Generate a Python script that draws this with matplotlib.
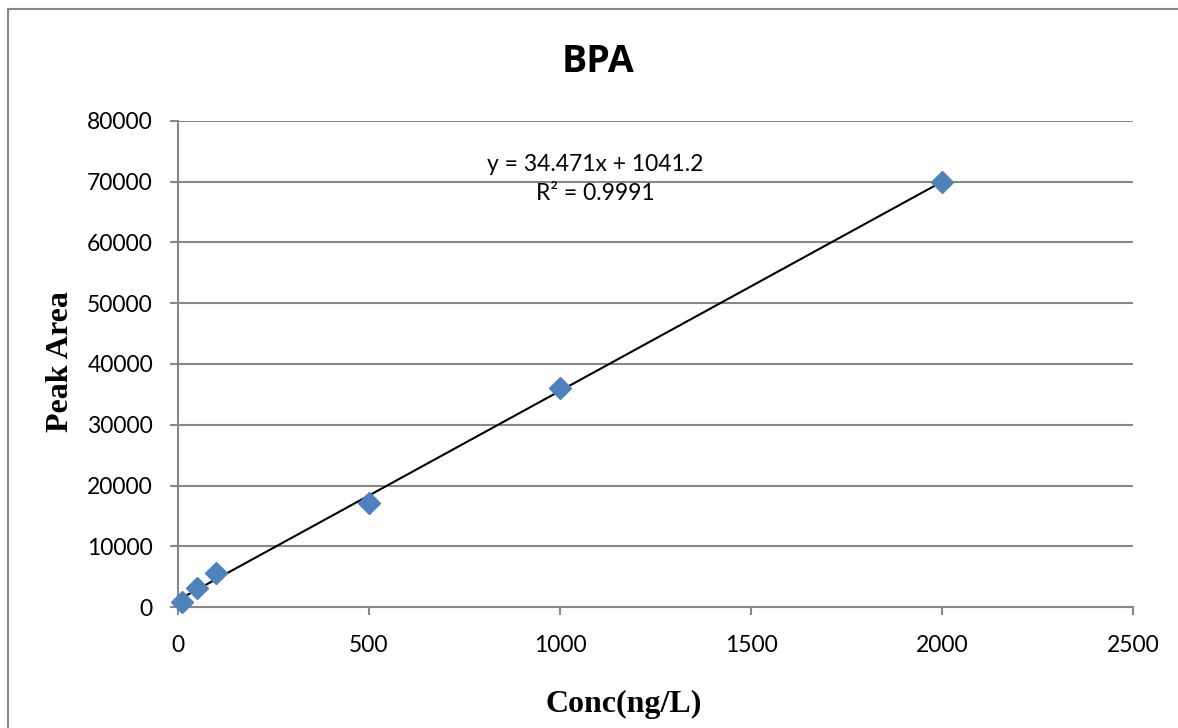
import numpy as np
import matplotlib
matplotlib.use("Agg")
import matplotlib.pyplot as plt
from matplotlib.lines import Line2D

# Courbe d'étalonnage BPA
conc = [10, 50, 100, 500, 1000, 2000]
area = [870, 3180, 5650, 17070, 36100, 70000]
eq_text = "y = 34.471x + 1041.2\nR² = 0.9991"

slope, intercept = np.polyfit(conc, area, 1)
x_fit = np.array([min(conc), max(conc)])

fig = plt.figure(figsize=(11.78, 7.28), dpi=100)
ax = fig.add_axes([0.1511, 0.1662, 0.8107, 0.6676])

grid_col = "#888888"
ax.set_xlim(0, 2500)
ax.set_ylim(0, 80000)
ax.set_xticks(range(0, 2501, 500))
ax.set_yticks(range(0, 80001, 10000))
ax.yaxis.grid(True, color=grid_col, linewidth=1.5)
ax.set_axisbelow(True)
for s in ["top", "right"]:
    ax.spines[s].set_visible(False)
for s in ["left", "bottom"]:
    ax.spines[s].set_color(grid_col)
    ax.spines[s].set_linewidth(1.5)
ax.tick_params(axis="y", length=6, width=1.5, color=grid_col, pad=12,
               labelsize=16.5)
ax.tick_params(axis="x", length=6, width=1.5, color=grid_col, pad=14,
               labelsize=16.5)
for lbl in ax.get_xticklabels() + ax.get_yticklabels():
    lbl.set_family("Lato")

ax.plot(x_fit, slope * x_fit + intercept, color="black", linewidth=1.5,
        zorder=3)
ax.plot(conc, area, linestyle="none", marker="D", markersize=11,
        color="#4F81BD", zorder=4, clip_on=False)

ax.text(0.4366, 0.881, eq_text, transform=ax.transAxes, ha="center",
        va="center", fontsize=16.5, family="Lato", linespacing=1.45)

fig.text(0.5076, 0.915, "BPA", ha="center", va="center", fontsize=27,
         fontweight="bold", family="Open Sans")
fig.text(0.051, 0.503, "Peak Area", rotation=90, ha="center", va="center",
         fontsize=23, fontweight="bold", family="Liberation Serif")
fig.text(0.5297, 0.0330, "Conc(ng/L)", ha="center", va="center",
         fontsize=23, fontweight="bold", family="Liberation Serif")

# cadre du graphique
fig.add_artist(Line2D([0.0068, 1.0], [0.9876, 0.9876], color=grid_col,
                      linewidth=1.5, transform=fig.transFigure))
fig.add_artist(Line2D([0.0068, 0.0068], [0.0, 0.9876], color=grid_col,
                      linewidth=1.5, transform=fig.transFigure))

fig.savefig("out.png", dpi=100)
